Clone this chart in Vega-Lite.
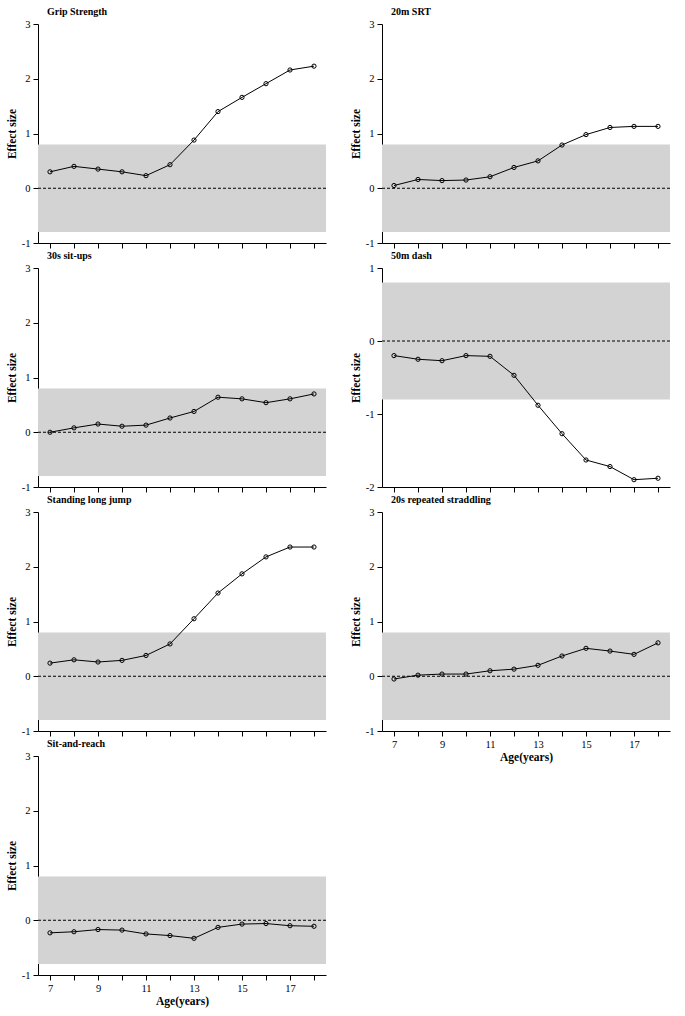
{
  "$schema": "https://vega.github.io/schema/vega-lite/v6.json",
  "padding": {"left": 6, "top": 7, "right": 5, "bottom": 5},
  "config": {
    "view": {"stroke": null},
    "font": "Liberation Serif",
    "axis": {
      "grid": false, "domainColor": "black", "tickColor": "black", "tickSize": 5,
      "labelFont": "Liberation Serif", "labelFontSize": 10.5, "labelColor": "black", "labelPadding": 3,
      "titleFont": "Liberation Serif", "titleFontSize": 11.5, "titleFontWeight": "bold", "titleColor": "black"
    },
    "title": {"font": "Liberation Serif", "fontSize": 10, "fontWeight": "bold", "color": "black", "anchor": "start", "frame": "group", "dx": 9, "offset": 2}
  },
  "datasets": {
    "band": [{"lo": -0.8, "hi": 0.8}],
    "es": [
      {"test": "Grip Strength", "age": 7, "es": 0.30},
      {"test": "Grip Strength", "age": 8, "es": 0.40},
      {"test": "Grip Strength", "age": 9, "es": 0.35},
      {"test": "Grip Strength", "age": 10, "es": 0.30},
      {"test": "Grip Strength", "age": 11, "es": 0.23},
      {"test": "Grip Strength", "age": 12, "es": 0.43},
      {"test": "Grip Strength", "age": 13, "es": 0.88},
      {"test": "Grip Strength", "age": 14, "es": 1.40},
      {"test": "Grip Strength", "age": 15, "es": 1.66},
      {"test": "Grip Strength", "age": 16, "es": 1.91},
      {"test": "Grip Strength", "age": 17, "es": 2.16},
      {"test": "Grip Strength", "age": 18, "es": 2.23},
      {"test": "20m SRT", "age": 7, "es": 0.05},
      {"test": "20m SRT", "age": 8, "es": 0.16},
      {"test": "20m SRT", "age": 9, "es": 0.14},
      {"test": "20m SRT", "age": 10, "es": 0.15},
      {"test": "20m SRT", "age": 11, "es": 0.21},
      {"test": "20m SRT", "age": 12, "es": 0.38},
      {"test": "20m SRT", "age": 13, "es": 0.50},
      {"test": "20m SRT", "age": 14, "es": 0.79},
      {"test": "20m SRT", "age": 15, "es": 0.98},
      {"test": "20m SRT", "age": 16, "es": 1.11},
      {"test": "20m SRT", "age": 17, "es": 1.13},
      {"test": "20m SRT", "age": 18, "es": 1.13},
      {"test": "30s sit-ups", "age": 7, "es": 0.00},
      {"test": "30s sit-ups", "age": 8, "es": 0.08},
      {"test": "30s sit-ups", "age": 9, "es": 0.15},
      {"test": "30s sit-ups", "age": 10, "es": 0.11},
      {"test": "30s sit-ups", "age": 11, "es": 0.13},
      {"test": "30s sit-ups", "age": 12, "es": 0.26},
      {"test": "30s sit-ups", "age": 13, "es": 0.38},
      {"test": "30s sit-ups", "age": 14, "es": 0.64},
      {"test": "30s sit-ups", "age": 15, "es": 0.61},
      {"test": "30s sit-ups", "age": 16, "es": 0.54},
      {"test": "30s sit-ups", "age": 17, "es": 0.61},
      {"test": "30s sit-ups", "age": 18, "es": 0.70},
      {"test": "50m dash", "age": 7, "es": -0.20},
      {"test": "50m dash", "age": 8, "es": -0.25},
      {"test": "50m dash", "age": 9, "es": -0.27},
      {"test": "50m dash", "age": 10, "es": -0.20},
      {"test": "50m dash", "age": 11, "es": -0.21},
      {"test": "50m dash", "age": 12, "es": -0.47},
      {"test": "50m dash", "age": 13, "es": -0.88},
      {"test": "50m dash", "age": 14, "es": -1.27},
      {"test": "50m dash", "age": 15, "es": -1.63},
      {"test": "50m dash", "age": 16, "es": -1.72},
      {"test": "50m dash", "age": 17, "es": -1.90},
      {"test": "50m dash", "age": 18, "es": -1.88},
      {"test": "Standing long jump", "age": 7, "es": 0.24},
      {"test": "Standing long jump", "age": 8, "es": 0.30},
      {"test": "Standing long jump", "age": 9, "es": 0.26},
      {"test": "Standing long jump", "age": 10, "es": 0.29},
      {"test": "Standing long jump", "age": 11, "es": 0.38},
      {"test": "Standing long jump", "age": 12, "es": 0.59},
      {"test": "Standing long jump", "age": 13, "es": 1.05},
      {"test": "Standing long jump", "age": 14, "es": 1.52},
      {"test": "Standing long jump", "age": 15, "es": 1.87},
      {"test": "Standing long jump", "age": 16, "es": 2.18},
      {"test": "Standing long jump", "age": 17, "es": 2.36},
      {"test": "Standing long jump", "age": 18, "es": 2.36},
      {"test": "20s repeated straddling", "age": 7, "es": -0.05},
      {"test": "20s repeated straddling", "age": 8, "es": 0.02},
      {"test": "20s repeated straddling", "age": 9, "es": 0.04},
      {"test": "20s repeated straddling", "age": 10, "es": 0.04},
      {"test": "20s repeated straddling", "age": 11, "es": 0.10},
      {"test": "20s repeated straddling", "age": 12, "es": 0.13},
      {"test": "20s repeated straddling", "age": 13, "es": 0.20},
      {"test": "20s repeated straddling", "age": 14, "es": 0.37},
      {"test": "20s repeated straddling", "age": 15, "es": 0.51},
      {"test": "20s repeated straddling", "age": 16, "es": 0.46},
      {"test": "20s repeated straddling", "age": 17, "es": 0.40},
      {"test": "20s repeated straddling", "age": 18, "es": 0.61},
      {"test": "Sit-and-reach", "age": 7, "es": -0.23},
      {"test": "Sit-and-reach", "age": 8, "es": -0.21},
      {"test": "Sit-and-reach", "age": 9, "es": -0.17},
      {"test": "Sit-and-reach", "age": 10, "es": -0.18},
      {"test": "Sit-and-reach", "age": 11, "es": -0.25},
      {"test": "Sit-and-reach", "age": 12, "es": -0.28},
      {"test": "Sit-and-reach", "age": 13, "es": -0.33},
      {"test": "Sit-and-reach", "age": 14, "es": -0.13},
      {"test": "Sit-and-reach", "age": 15, "es": -0.07},
      {"test": "Sit-and-reach", "age": 16, "es": -0.06},
      {"test": "Sit-and-reach", "age": 17, "es": -0.10},
      {"test": "Sit-and-reach", "age": 18, "es": -0.11}
    ]
  },
  "spacing": 23,
  "hconcat": [
    {
      "spacing": 2,
      "vconcat": [
        {
          "width": 288, "height": 219,
          "title": "Grip Strength",
          "layer": [
            {"data": {"name": "band"}, "mark": {"type": "rect", "color": "#d3d3d3"},
             "encoding": {"y": {"field": "lo", "type": "quantitative", "scale": {"domain": [-1, 3], "nice": false}, "axis": {"title": "Effect size", "values": [-1, -0.5, 0, 0.5, 1, 1.5, 2, 2.5, 3], "labelExpr": "datum.value % 1 === 0 ? toString(datum.value) : ''"}}, "y2": {"field": "hi"}}},
            {"data": {"name": "band"}, "mark": {"type": "rule", "color": "black", "strokeDash": [3, 2], "strokeWidth": 1}, "encoding": {"y": {"datum": 0}}},
            {"data": {"name": "es"}, "transform": [{"filter": "datum.test === 'Grip Strength'"}],
             "mark": {"type": "line", "color": "black", "strokeWidth": 1, "point": {"filled": false, "size": 18, "stroke": "black", "strokeWidth": 1}},
             "encoding": {"x": {"field": "age", "type": "quantitative", "scale": {"domain": [6.5, 18.5], "nice": false, "zero": false}, "axis": {"values": [7, 8, 9, 10, 11, 12, 13, 14, 15, 16, 17, 18], "labels": false, "title": null}}, "y": {"field": "es", "type": "quantitative"}}}
          ]
        },
        {
          "width": 288, "height": 219,
          "title": "30s sit-ups",
          "layer": [
            {"data": {"name": "band"}, "mark": {"type": "rect", "color": "#d3d3d3"},
             "encoding": {"y": {"field": "lo", "type": "quantitative", "scale": {"domain": [-1, 3], "nice": false}, "axis": {"title": "Effect size", "values": [-1, -0.5, 0, 0.5, 1, 1.5, 2, 2.5, 3], "labelExpr": "datum.value % 1 === 0 ? toString(datum.value) : ''"}}, "y2": {"field": "hi"}}},
            {"data": {"name": "band"}, "mark": {"type": "rule", "color": "black", "strokeDash": [3, 2], "strokeWidth": 1}, "encoding": {"y": {"datum": 0}}},
            {"data": {"name": "es"}, "transform": [{"filter": "datum.test === '30s sit-ups'"}],
             "mark": {"type": "line", "color": "black", "strokeWidth": 1, "point": {"filled": false, "size": 18, "stroke": "black", "strokeWidth": 1}},
             "encoding": {"x": {"field": "age", "type": "quantitative", "scale": {"domain": [6.5, 18.5], "nice": false, "zero": false}, "axis": {"values": [7, 8, 9, 10, 11, 12, 13, 14, 15, 16, 17, 18], "labels": false, "title": null}}, "y": {"field": "es", "type": "quantitative"}}}
          ]
        },
        {
          "width": 288, "height": 219,
          "title": "Standing long jump",
          "layer": [
            {"data": {"name": "band"}, "mark": {"type": "rect", "color": "#d3d3d3"},
             "encoding": {"y": {"field": "lo", "type": "quantitative", "scale": {"domain": [-1, 3], "nice": false}, "axis": {"title": "Effect size", "values": [-1, -0.5, 0, 0.5, 1, 1.5, 2, 2.5, 3], "labelExpr": "datum.value % 1 === 0 ? toString(datum.value) : ''"}}, "y2": {"field": "hi"}}},
            {"data": {"name": "band"}, "mark": {"type": "rule", "color": "black", "strokeDash": [3, 2], "strokeWidth": 1}, "encoding": {"y": {"datum": 0}}},
            {"data": {"name": "es"}, "transform": [{"filter": "datum.test === 'Standing long jump'"}],
             "mark": {"type": "line", "color": "black", "strokeWidth": 1, "point": {"filled": false, "size": 18, "stroke": "black", "strokeWidth": 1}},
             "encoding": {"x": {"field": "age", "type": "quantitative", "scale": {"domain": [6.5, 18.5], "nice": false, "zero": false}, "axis": {"values": [7, 8, 9, 10, 11, 12, 13, 14, 15, 16, 17, 18], "labels": false, "title": null}}, "y": {"field": "es", "type": "quantitative"}}}
          ]
        },
        {
          "width": 288, "height": 219,
          "title": "Sit-and-reach",
          "layer": [
            {"data": {"name": "band"}, "mark": {"type": "rect", "color": "#d3d3d3"},
             "encoding": {"y": {"field": "lo", "type": "quantitative", "scale": {"domain": [-1, 3], "nice": false}, "axis": {"title": "Effect size", "values": [-1, -0.5, 0, 0.5, 1, 1.5, 2, 2.5, 3], "labelExpr": "datum.value % 1 === 0 ? toString(datum.value) : ''"}}, "y2": {"field": "hi"}}},
            {"data": {"name": "band"}, "mark": {"type": "rule", "color": "black", "strokeDash": [3, 2], "strokeWidth": 1}, "encoding": {"y": {"datum": 0}}},
            {"data": {"name": "es"}, "transform": [{"filter": "datum.test === 'Sit-and-reach'"}],
             "mark": {"type": "line", "color": "black", "strokeWidth": 1, "point": {"filled": false, "size": 18, "stroke": "black", "strokeWidth": 1}},
             "encoding": {"x": {"field": "age", "type": "quantitative", "scale": {"domain": [6.5, 18.5], "nice": false, "zero": false}, "axis": {"values": [7, 8, 9, 10, 11, 12, 13, 14, 15, 16, 17, 18], "labelExpr": "datum.value % 2 === 1 ? toString(datum.value) : ''", "title": "Age(years)", "titlePadding": 2}}, "y": {"field": "es", "type": "quantitative"}}}
          ]
        }
      ]
    },
    {
      "spacing": 2,
      "vconcat": [
        {
          "width": 288, "height": 219,
          "title": "20m SRT",
          "layer": [
            {"data": {"name": "band"}, "mark": {"type": "rect", "color": "#d3d3d3"},
             "encoding": {"y": {"field": "lo", "type": "quantitative", "scale": {"domain": [-1, 3], "nice": false}, "axis": {"title": "Effect size", "values": [-1, -0.5, 0, 0.5, 1, 1.5, 2, 2.5, 3], "labelExpr": "datum.value % 1 === 0 ? toString(datum.value) : ''"}}, "y2": {"field": "hi"}}},
            {"data": {"name": "band"}, "mark": {"type": "rule", "color": "black", "strokeDash": [3, 2], "strokeWidth": 1}, "encoding": {"y": {"datum": 0}}},
            {"data": {"name": "es"}, "transform": [{"filter": "datum.test === '20m SRT'"}],
             "mark": {"type": "line", "color": "black", "strokeWidth": 1, "point": {"filled": false, "size": 18, "stroke": "black", "strokeWidth": 1}},
             "encoding": {"x": {"field": "age", "type": "quantitative", "scale": {"domain": [6.5, 18.5], "nice": false, "zero": false}, "axis": {"values": [7, 8, 9, 10, 11, 12, 13, 14, 15, 16, 17, 18], "labels": false, "title": null}}, "y": {"field": "es", "type": "quantitative"}}}
          ]
        },
        {
          "width": 288, "height": 219,
          "title": "50m dash",
          "layer": [
            {"data": {"name": "band"}, "mark": {"type": "rect", "color": "#d3d3d3"},
             "encoding": {"y": {"field": "lo", "type": "quantitative", "scale": {"domain": [-2, 1], "nice": false}, "axis": {"title": "Effect size", "values": [-2, -1.5, -1, -0.5, 0, 0.5, 1], "labelExpr": "datum.value % 1 === 0 ? toString(datum.value) : ''"}}, "y2": {"field": "hi"}}},
            {"data": {"name": "band"}, "mark": {"type": "rule", "color": "black", "strokeDash": [3, 2], "strokeWidth": 1}, "encoding": {"y": {"datum": 0}}},
            {"data": {"name": "es"}, "transform": [{"filter": "datum.test === '50m dash'"}],
             "mark": {"type": "line", "color": "black", "strokeWidth": 1, "point": {"filled": false, "size": 18, "stroke": "black", "strokeWidth": 1}},
             "encoding": {"x": {"field": "age", "type": "quantitative", "scale": {"domain": [6.5, 18.5], "nice": false, "zero": false}, "axis": {"values": [7, 8, 9, 10, 11, 12, 13, 14, 15, 16, 17, 18], "labels": false, "title": null}}, "y": {"field": "es", "type": "quantitative"}}}
          ]
        },
        {
          "width": 288, "height": 219,
          "title": "20s repeated straddling",
          "layer": [
            {"data": {"name": "band"}, "mark": {"type": "rect", "color": "#d3d3d3"},
             "encoding": {"y": {"field": "lo", "type": "quantitative", "scale": {"domain": [-1, 3], "nice": false}, "axis": {"title": "Effect size", "values": [-1, -0.5, 0, 0.5, 1, 1.5, 2, 2.5, 3], "labelExpr": "datum.value % 1 === 0 ? toString(datum.value) : ''"}}, "y2": {"field": "hi"}}},
            {"data": {"name": "band"}, "mark": {"type": "rule", "color": "black", "strokeDash": [3, 2], "strokeWidth": 1}, "encoding": {"y": {"datum": 0}}},
            {"data": {"name": "es"}, "transform": [{"filter": "datum.test === '20s repeated straddling'"}],
             "mark": {"type": "line", "color": "black", "strokeWidth": 1, "point": {"filled": false, "size": 18, "stroke": "black", "strokeWidth": 1}},
             "encoding": {"x": {"field": "age", "type": "quantitative", "scale": {"domain": [6.5, 18.5], "nice": false, "zero": false}, "axis": {"values": [7, 8, 9, 10, 11, 12, 13, 14, 15, 16, 17, 18], "labelExpr": "datum.value % 2 === 1 ? toString(datum.value) : ''", "title": "Age(years)", "titlePadding": 2}}, "y": {"field": "es", "type": "quantitative"}}}
          ]
        }
      ]
    }
  ]
}
